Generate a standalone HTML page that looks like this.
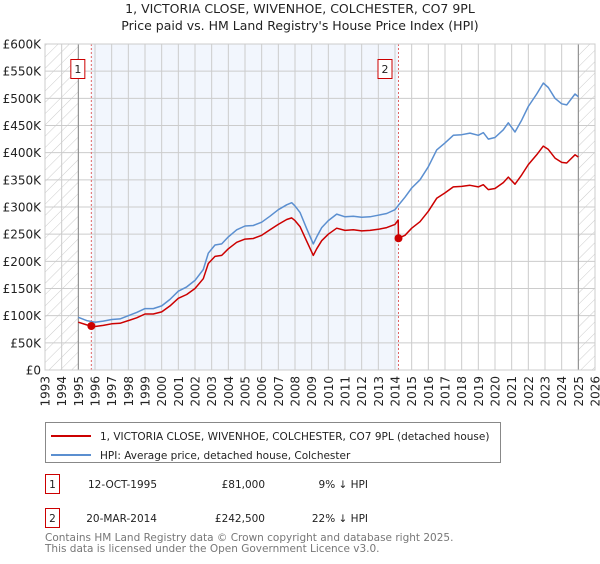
<!DOCTYPE html>
<html><head><meta charset="utf-8"><style>
body{margin:0;background:#fff;font-family:"DejaVu Sans","Liberation Sans",sans-serif;}
svg text{font-family:"DejaVu Sans","Liberation Sans",sans-serif;}
</style></head><body>
<svg id="chart" width="600" height="560" xmlns="http://www.w3.org/2000/svg">
<defs><pattern id="hatch" width="8" height="8" patternUnits="userSpaceOnUse" patternTransform="rotate(45)"><line x1="0" y1="0" x2="0" y2="8" stroke="#ccc" stroke-width="1"/></pattern></defs>
<text x="300" y="13" font-size="12.5" text-anchor="middle" fill="#222">1, VICTORIA CLOSE, WIVENHOE, COLCHESTER, CO7 9PL</text>
<text x="300" y="30" font-size="12.5" text-anchor="middle" fill="#222">Price paid vs. HM Land Registry's House Price Index (HPI)</text>
<g id="plot"></g>
<g>
<rect x="45.5" y="422.5" width="455" height="40" fill="#fff" stroke="#888"/>
<line x1="51" y1="436" x2="91" y2="436" stroke="#cc0000" stroke-width="2"/>
<text x="100" y="440" font-size="10.5" fill="#222">1, VICTORIA CLOSE, WIVENHOE, COLCHESTER, CO7 9PL (detached house)</text>
<line x1="51" y1="455" x2="91" y2="455" stroke="#5b8fd0" stroke-width="2"/>
<text x="100" y="459" font-size="10.5" fill="#222">HPI: Average price, detached house, Colchester</text>
</g>
<g font-size="10.5" fill="#222">
<rect x="45.5" y="474.5" width="14" height="19" fill="#fff" stroke="#cc0000"/><text x="52.5" y="488" text-anchor="middle">1</text>
<text x="157" y="488" text-anchor="end">12-OCT-1995</text><text x="265" y="488" text-anchor="end">£81,000</text><text x="368" y="488" text-anchor="end">9% ↓ HPI</text>
</g>
<g font-size="10.5" fill="#222">
<rect x="45.5" y="508.5" width="14" height="19" fill="#fff" stroke="#cc0000"/><text x="52.5" y="522" text-anchor="middle">2</text>
<text x="157" y="522" text-anchor="end">20-MAR-2014</text><text x="265" y="522" text-anchor="end">£242,500</text><text x="368" y="522" text-anchor="end">22% ↓ HPI</text>
</g>
<text x="45" y="541" font-size="10.5" fill="#777">Contains HM Land Registry data © Crown copyright and database right 2025.</text>
<text x="45" y="552" font-size="10.5" fill="#777">This data is licensed under the Open Government Licence v3.0.</text>
</svg>
<script>
const hpiYears=[1995.0,1995.5,1996.0,1996.5,1997.0,1997.5,1998.0,1998.5,1999.0,1999.5,2000.0,2000.5,2001.0,2001.5,2002.0,2002.5,2002.8,2003.2,2003.6,2004.0,2004.5,2005.0,2005.5,2006.0,2006.5,2007.0,2007.5,2007.8,2008.0,2008.3,2008.7,2009.1,2009.3,2009.6,2010.0,2010.5,2011.0,2011.5,2012.0,2012.5,2013.0,2013.5,2014.0,2014.2,2014.6,2015.0,2015.5,2016.0,2016.5,2017.0,2017.5,2018.0,2018.5,2019.0,2019.3,2019.6,2020.0,2020.5,2020.8,2021.2,2021.6,2022.0,2022.5,2022.9,2023.2,2023.6,2024.0,2024.3,2024.8,2025.0];
const hpiValues=[97,91,88,90,93,94,100,106,113,113,118,130,145,153,165,185,215,230,232,245,258,265,266,272,283,295,304,308,302,290,260,232,245,262,275,287,282,283,281,282,285,288,295,303,318,335,350,374,405,418,432,433,436,432,437,425,428,442,455,438,460,485,508,528,520,500,490,488,508,503];
const priceYears=[1995.0,1995.5,1996.0,1996.5,1997.0,1997.5,1998.0,1998.5,1999.0,1999.5,2000.0,2000.5,2001.0,2001.5,2002.0,2002.5,2002.8,2003.2,2003.6,2004.0,2004.5,2005.0,2005.5,2006.0,2006.5,2007.0,2007.5,2007.8,2008.0,2008.3,2008.7,2009.1,2009.3,2009.6,2010.0,2010.5,2011.0,2011.5,2012.0,2012.5,2013.0,2013.5,2014.0,2014.19,2014.21,2014.6,2015.0,2015.5,2016.0,2016.5,2017.0,2017.5,2018.0,2018.5,2019.0,2019.3,2019.6,2020.0,2020.5,2020.8,2021.2,2021.6,2022.0,2022.5,2022.9,2023.2,2023.6,2024.0,2024.3,2024.8,2025.0];
const priceValues=[88,83,80,82,85,86,91,96,103,103,107,118,132,139,150,168,196,209,211,223,235,241,242,248,258,268,277,280,275,264,237,211,223,238,250,261,257,258,256,257,259,262,268,276,242.5,248,261,273,292,316,326,337,338,340,337,341,332,334,345,355,342,359,378,396,412,406,390,382,381,396,392];
const saleYears=[1995.78,2014.21];
const saleValues=[81,242.5];
const saleLabels=["1","2"];
const yTicks=[0,50,100,150,200,250,300,350,400,450,500,550,600];
const yTickLabels=["£0","£50K","£100K","£150K","£200K","£250K","£300K","£350K","£400K","£450K","£500K","£550K","£600K"];
const xTicks=[1993,1994,1995,1996,1997,1998,1999,2000,2001,2002,2003,2004,2005,2006,2007,2008,2009,2010,2011,2012,2013,2014,2015,2016,2017,2018,2019,2020,2021,2022,2023,2024,2025,2026];
const dataStart=1995.0, dataEnd=2025.0;

const X0=45,X1=595,Y0=370,Y1=44;
const xs=y=>X0+(y-1993)/(2026-1993)*(X1-X0);
const ys=v=>Y0-v/600*(Y0-Y1);
const NS="http://www.w3.org/2000/svg";
const plot=document.getElementById('plot');
function mk(tag,attrs,parent){const e=document.createElementNS(NS,tag);for(const k in attrs)e.setAttribute(k,attrs[k]);(parent||plot).appendChild(e);return e;}

let r=mk('rect',{x:X0,y:Y1,width:X1-X0,height:Y0-Y1,fill:'#fff'});


r=mk('rect',{x:xs(saleYears[0]),y:Y1,width:xs(saleYears[1])-xs(saleYears[0]),height:Y0-Y1,fill:'#f2f6fd'});


r=mk('rect',{x:X0,y:Y1,width:xs(dataStart)-X0,height:Y0-Y1,fill:'url(#hatch)'});


r=mk('rect',{x:xs(dataEnd),y:Y1,width:X1-xs(dataEnd),height:Y0-Y1,fill:'url(#hatch)'});



yTicks.forEach((t,i)=>{
  const l=mk('line',{x1:X0,x2:X1,y1:ys(t),y2:ys(t),stroke:'#ccc','stroke-width':1});
  
  
  const tx=mk('text',{x:X0-4,y:ys(t)+4.5,'font-size':12,'text-anchor':'end',fill:'#222'});
  tx.textContent=yTickLabels[i];
  
  
});
xTicks.forEach(t=>{
  const l=mk('line',{x1:xs(t),x2:xs(t),y1:Y1,y2:Y0,stroke:'#ccc','stroke-width':1});
  
  
  const tx=mk('text',{x:0,y:0,'font-size':12,'text-anchor':'end',fill:'#222',transform:`translate(${xs(t)+4.5},376) rotate(-90)`});
  tx.textContent=t;
  
  
});
[dataStart,dataEnd].forEach(t=>{
  const l=mk('line',{x1:xs(t),x2:xs(t),y1:Y1,y2:Y0,stroke:'#888','stroke-width':1});
  
  
});
saleYears.forEach((t,i)=>{
  const l=mk('line',{x1:xs(t),x2:xs(t),y1:Y1,y2:Y0,stroke:'#e06666','stroke-width':1,'stroke-dasharray':'2,2'});
  
  
  const b=mk('rect',{x:xs(t)-20.5,y:59.5,width:14,height:19,fill:'#fff',stroke:'#cc0000'});
  
  
  const tx=mk('text',{x:xs(t)-13.5,y:73,'font-size':11,'text-anchor':'middle',fill:'#222'});
  tx.textContent=saleLabels[i];
  
  
});
function pts(xa,va){return xa.map((x,i)=>xs(x).toFixed(1)+','+ys(va[i]).toFixed(1)).join(' ');}
let p=mk('polyline',{points:pts(hpiYears,hpiValues),fill:'none',stroke:'#5b8fd0','stroke-width':1.5,'stroke-linejoin':'round'});


p=mk('polyline',{points:pts(priceYears,priceValues),fill:'none',stroke:'#cc0000','stroke-width':1.5,'stroke-linejoin':'round'});


saleYears.forEach((t,i)=>{
  const c=mk('circle',{cx:xs(t),cy:ys(saleValues[i]),r:4,fill:'#cc0000'});
  
  
});
r=mk('rect',{x:X0,y:Y1,width:X1-X0,height:Y0-Y1,fill:'none',stroke:'#ccc'});


</script>
</body></html>
